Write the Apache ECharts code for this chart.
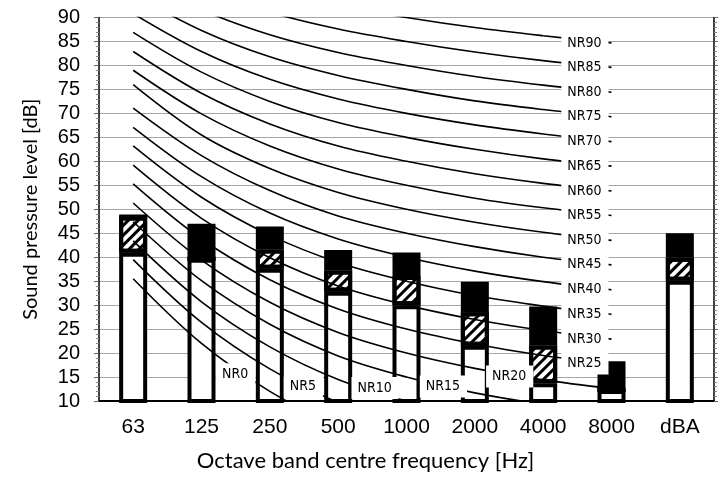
<!DOCTYPE html>
<html>
<head>
<meta charset="utf-8">
<script src="https://cdn.jsdelivr.net/npm/echarts@6/dist/echarts.min.js"></script>
<style>
html,body{margin:0;padding:0;background:#fff;}
#chart{width:720px;height:477px;}
</style>
</head>
<body>
<div id="chart"></div>
<script>
// ---- data ----
const categories = ['63', '125', '250', '500', '1000', '2000', '4000', '8000', 'dBA'];
const yTicks = [10, 15, 20, 25, 30, 35, 40, 45, 50, 55, 60, 65, 70, 75, 80, 85, 90];

// stacked bar levels (dB): top of white part, top of hatched part, top of black part
const whiteTop = [40.9, 39.7, 37.6, 32.8, 30.0, 21.5, 13.7, 12.3, 35.1];
const hatchTop = [48.5, 39.7, 41.6, 37.2, 36.1, 28.5, 21.6, 12.3, 39.9];
const blackTop = [48.5, 47.0, 46.4, 41.5, 41.0, 34.9, 29.7, 18.3, 45.0];

// NR curves, values at 63 .. 8000 Hz
const nrLevels = [0, 5, 10, 15, 20, 25, 30, 35, 40, 45, 50, 55, 60, 65, 70, 75, 80, 85, 90];
const nr0  = [35.5, 22.0, 12.0,  4.8,  0, -3.5, -6.1, -8.0];
const nr5  = [39.5, 26.4, 16.7,  9.7,  5,  1.6, -1.0, -2.9];
const nr10 = [43.4, 30.7, 21.3, 14.5, 10,  6.7,  4.2,  2.3];
const nr15 = [47.4, 35.1, 26.0, 19.4, 15, 11.7,  9.3,  7.5];
const nr20 = [51.3, 39.4, 30.6, 24.3, 20, 16.8, 14.4, 12.6];
const nr25 = [55.3, 43.8, 35.3, 29.2, 25, 21.9, 19.5, 17.8];
const nr30 = [59.2, 48.1, 39.9, 34.0, 30, 27.0, 24.7, 22.9];
const nr35 = [63.2, 52.5, 44.6, 38.9, 35, 32.0, 29.8, 28.1];
const nr40 = [67.1, 56.8, 49.2, 43.8, 40, 37.1, 34.9, 33.2];
const nr45 = [71.1, 61.2, 53.9, 48.6, 45, 42.2, 40.0, 38.4];
const nr50 = [76.0, 65.5, 58.5, 53.5, 50, 47.3, 45.2, 43.5];
const nr55 = [79.0, 69.9, 63.2, 58.4, 55, 52.3, 50.3, 48.7];
const nr60 = [82.9, 74.2, 67.8, 63.2, 60, 57.4, 55.4, 53.8];
const nr65 = [86.9, 78.6, 72.5, 68.1, 65, 62.5, 60.5, 59.0];
const nr70 = [90.8, 82.9, 77.1, 73.0, 70, 67.6, 65.7, 64.1];
const nr75 = [94.8, 87.3, 81.8, 77.9, 75, 72.6, 70.8, 69.3];
const nr80 = [98.7, 91.6, 86.4, 82.7, 80, 77.7, 75.9, 74.4];
const nr85 = [102.7, 96.0, 91.1, 87.6, 85, 82.8, 81.0, 79.6];
const nr90 = [106.6, 100.3, 95.7, 92.5, 90, 87.9, 86.2, 84.7];
const nrCurves = [nr0, nr5, nr10, nr15, nr20, nr25, nr30, nr35, nr40, nr45,
                  nr50, nr55, nr60, nr65, nr70, nr75, nr80, nr85, nr90];

// ---- chart ----
const labelFont = "'DejaVu Sans Condensed', 'Liberation Sans', sans-serif";
const tickFont = "'Liberation Sans', Arial, sans-serif";
const titleFont = "Lato, 'Open Sans', sans-serif";

// anchors for the NR labels that sit low in the plot (category index, dB)
const lowLabelAnchor = {0: [1.5, 15.6], 5: [2.49, 13.0], 10: [3.54, 12.7], 15: [4.54, 13.0], 20: [5.51, 15.1]};

const hatchInc = hatchTop.map((v, i) => +(v - whiteTop[i]).toFixed(2));
const blackInc = blackTop.map((v, i) => +(v - hatchTop[i]).toFixed(2));

const barCommon = {
  type: 'bar', stack: 'lvl', xAxisIndex: 0, yAxisIndex: 0, barWidth: 28,
  silent: true, animation: false
};

const series = [
  Object.assign({}, barCommon, {
    name: 'base', data: whiteTop,
    itemStyle: {color: '#ffffff', borderColor: '#000', borderWidth: 4}
  }),
  Object.assign({}, barCommon, {
    name: 'hatch', data: hatchInc,
    itemStyle: {
      color: '#ffffff', borderColor: '#000', borderWidth: 4,
      decal: {symbol: 'rect', symbolSize: 1, dashArrayX: [1, 0], dashArrayY: [3, 3.5],
              rotation: -Math.PI / 4, color: '#000', backgroundColor: null}
    }
  }),
  Object.assign({}, barCommon, {
    name: 'top', data: blackInc,
    itemStyle: {color: '#000', borderColor: '#000', borderWidth: 4}
  })
];

nrLevels.forEach((n, i) => {
  const vals = nrCurves[i];
  const low = lowLabelAnchor[n];
  const mpItem = low
    ? {coord: low, label: {position: 'inside'}}
    : {coord: [7, vals[7]], label: {position: 'left', distance: 3}};
  series.push({
    type: 'line', name: 'NR' + n, xAxisIndex: 1, yAxisIndex: 0,
    data: vals.map((v, k) => [k, v]),
    smooth: 0.35, symbol: 'none', silent: true, animation: false, z: 3,
    lineStyle: {color: '#000', width: 1.6},
    markPoint: {
      z: 10, symbol: 'circle', symbolSize: 0, silent: true, animation: false,
      label: {
        show: true, formatter: 'NR' + n, color: '#000',
        fontFamily: labelFont, fontSize: 14,
        backgroundColor: '#fff', padding: [4, 7, 4, 6]
      },
      data: [mpItem]
    }
  });
});

const chart = echarts.init(document.getElementById('chart'), null, {renderer: 'canvas'});
chart.setOption({
  animation: false,
  backgroundColor: '#fff',
  grid: {left: 99, right: 6, top: 17.5, bottom: 75, containLabel: false},
  xAxis: [
    {
      type: 'category', data: categories, position: 'bottom',
      axisLine: {show: true, onZero: false, lineStyle: {color: '#000', width: 2}},
      axisTick: {show: false},
      axisLabel: {color: '#000', fontFamily: tickFont, fontSize: 21, margin: 16, interval: 0},
      splitLine: {show: false},
      name: 'Octave band centre frequency [Hz]', nameLocation: 'middle', nameGap: 49,
      nameTextStyle: {color: '#000', fontFamily: titleFont, fontSize: 22, padding: [0, 82, 0, 0]}
    },
    {type: 'value', min: -0.5, max: 8.5, show: false, position: 'top'}
  ],
  yAxis: [
    {
      type: 'value', min: 10, max: 90, interval: 5, position: 'left',
      axisLine: {show: true, onZero: false, lineStyle: {color: '#000', width: 1.5}},
      axisTick: {show: true, inside: false, length: 5, lineStyle: {color: '#666'}},
      minorTick: {show: true, splitNumber: 5, length: 3, lineStyle: {color: '#888'}},
      axisLabel: {color: '#000', fontFamily: tickFont, fontSize: 20, margin: 19,
                  formatter: v => (yTicks.indexOf(v) >= 0 ? String(v) : '')},
      splitLine: {show: true, lineStyle: {color: '#a6a6a6', width: 1.2}},
      name: 'Sound pressure level [dB]', nameLocation: 'middle', nameGap: 58,
      nameTextStyle: {color: '#000', fontFamily: titleFont, fontSize: 20}
    },
    {
      type: 'value', min: 10, max: 90, interval: 5, position: 'right',
      axisLine: {show: true, onZero: false, lineStyle: {color: '#000', width: 1.5}},
      axisTick: {show: true, inside: false, length: 4, lineStyle: {color: '#666'}},
      minorTick: {show: true, splitNumber: 5, length: 3, lineStyle: {color: '#888'}},
      axisLabel: {show: false},
      splitLine: {show: false}
    }
  ],
  series: series
});
</script>
</body>
</html>
